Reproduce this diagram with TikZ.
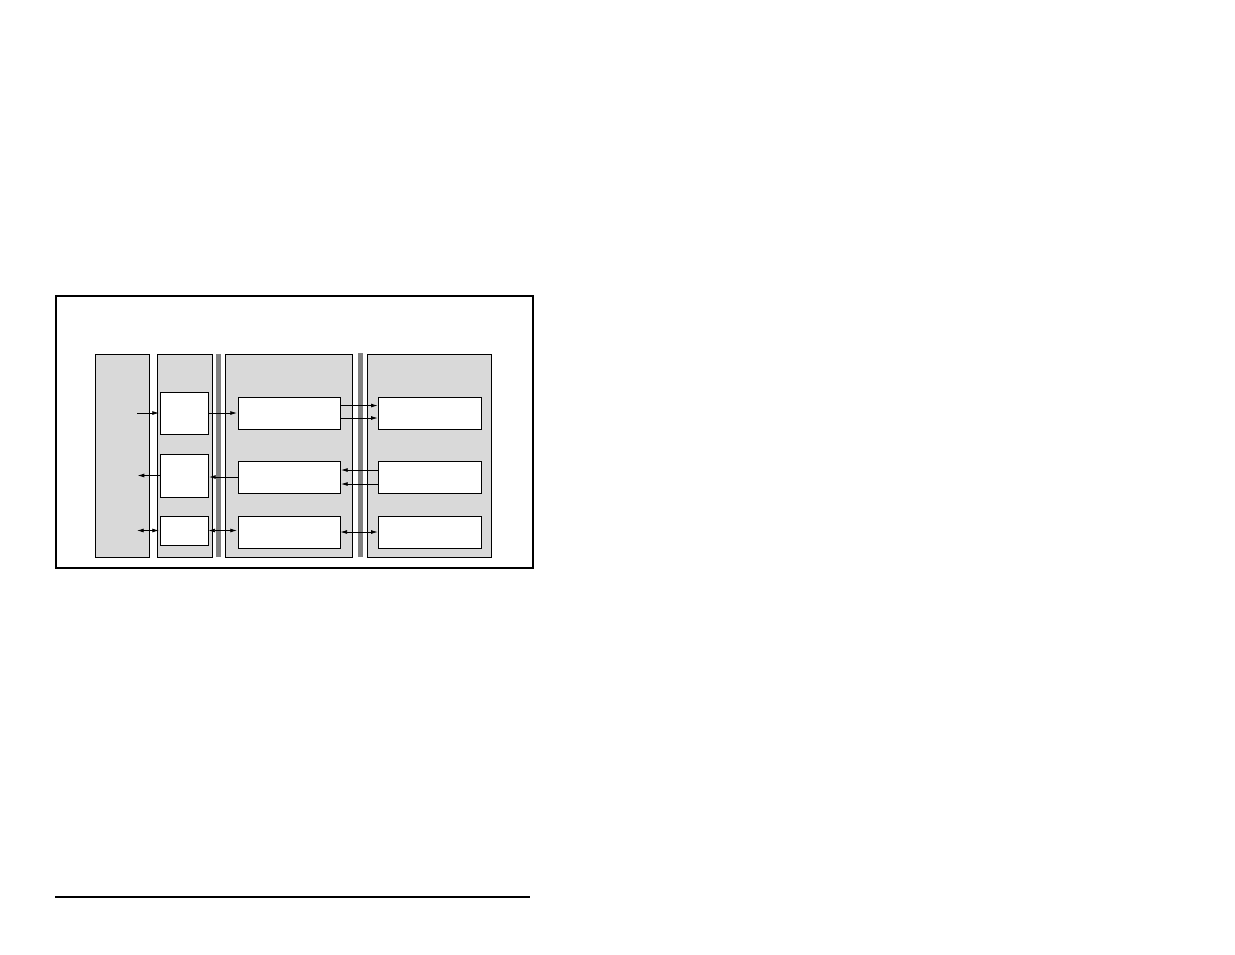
\documentclass[tikz,border=0pt]{standalone}
\usepackage{tikz}
\usetikzlibrary{arrows.meta}
\tikzstyle{layer} = [rectangle, draw, fill=gray!30, inner sep=0pt, minimum height=152.25pt]
\tikzstyle{bus} = [rectangle, fill=gray, inner sep=0pt, minimum height=152.25pt]
\tikzstyle{unit} = [rectangle, draw, fill=white, inner sep=0pt]

\begin{document}
\begin{tikzpicture}[x=0.75pt,y=-0.75pt,->,>={Latex[length=5pt,width=3pt]},shorten >=0.5pt,line width=0.6pt]
  \useasboundingbox (0,0) rectangle (1235,954);
  \draw[-,line width=1.2pt] (56,296) rectangle (533,568);

  % layers
  \node[layer,minimum width=40.5pt] (host) at (122,455.5) {};
  \node[layer,minimum width=41.25pt] (port) at (184.5,455.5) {};
  \node[bus,minimum width=4.1pt] (busL) at (218.75,455.5) {};
  \node[layer,minimum width=95.25pt] (core) at (288.5,455.5) {};
  \node[bus,minimum width=3.75pt,minimum height=153pt] (busR) at (360.5,455) {};
  \node[layer,minimum width=93pt] (dev) at (429,455.5) {};

  % units
  \node[unit,minimum width=36pt,minimum height=31.5pt] (in) at (184,413) {};
  \node[unit,minimum width=36pt,minimum height=32.25pt] (out) at (184,475.5) {};
  \node[unit,minimum width=36pt,minimum height=21.75pt] (io) at (184,530.5) {};
  \node[unit,minimum width=76.5pt,minimum height=24pt] (tx) at (289,413) {};
  \node[unit,minimum width=76.5pt,minimum height=24pt] (rx) at (289,477) {};
  \node[unit,minimum width=76.5pt,minimum height=24pt] (ctl) at (289,532) {};
  \node[unit,minimum width=76.9pt,minimum height=24pt] (txd) at (430,413) {};
  \node[unit,minimum width=76.9pt,minimum height=24pt] (rxd) at (430,477) {};
  \node[unit,minimum width=76.9pt,minimum height=24pt] (ctld) at (430,532) {};

  \coordinate (inL) at (137,413);
  \coordinate (outL) at (137,475.5);
  \coordinate (ioL) at (137,530.5);

  \draw (inL) -- (in.west);
  \draw (out.west) -- (outL);
  \draw[<->] (ioL) -- (io.west);
  \draw (in.east) -- (tx.west);
  \draw (rx.west) -- (rx.west -| out.east);
  \draw[<->] (io.east) -- (io.east -| ctl.west);
  \draw ([yshift=5.6pt]tx.east) -- ([yshift=5.6pt]txd.west);
  \draw ([yshift=-3.75pt]tx.east) -- ([yshift=-3.75pt]txd.west);
  \draw ([yshift=5.25pt]rxd.west) -- ([yshift=5.25pt]rx.east);
  \draw ([yshift=-5.25pt]rxd.west) -- ([yshift=-5.25pt]rx.east);
  \draw[<->] (ctl.east) -- (ctld.west);

  \draw[-,line width=0.9pt] (55,897) -- (531,897);
\end{tikzpicture}
\end{document}
